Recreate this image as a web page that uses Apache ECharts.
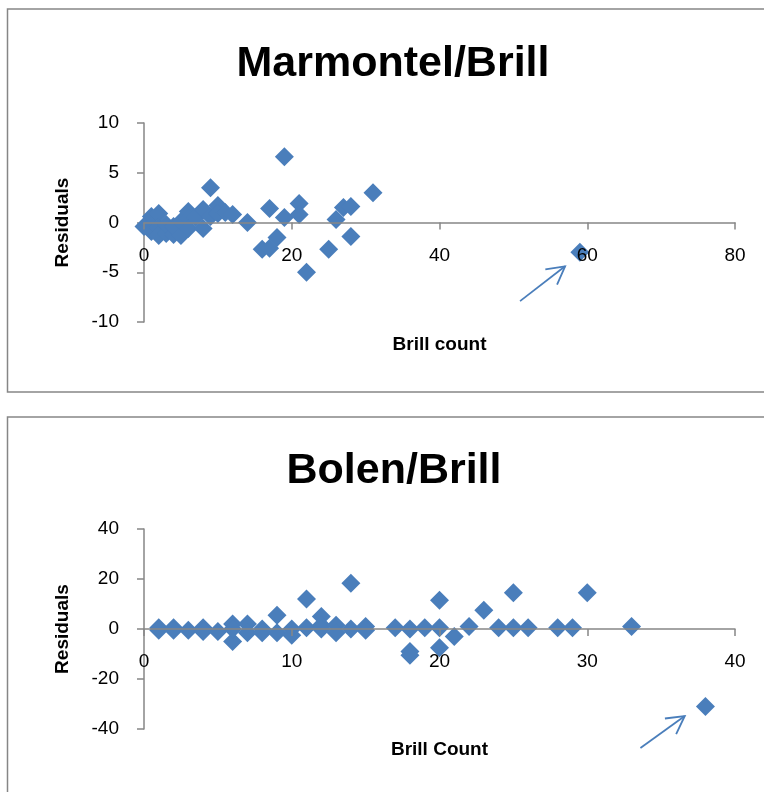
<!DOCTYPE html>
<html>
<head>
<meta charset="utf-8">
<script src="https://cdn.jsdelivr.net/npm/echarts@6/dist/echarts.min.js"></script>
<style>
  html, body { margin: 0; padding: 0; background: #fff; overflow: hidden; }
  #main { width: 764px; height: 792px; }
</style>
</head>
<body>
<div id="main"></div>
<script>
// Marmontel/Brill residuals (Brill count, residual)
const marmCount = [0, 1, 1, 1, 2, 2, 2, 3, 3, 4, 4, 5, 5, 6, 6, 6, 7, 8, 8, 9, 9, 10, 10, 11, 12, 14, 16, 17, 17, 18, 19, 19, 21, 21, 22, 25, 26, 27, 28, 28, 31, 59]
const marmResid = [-0.4, 0.6, -0.3, -0.9, 0.9, -0.5, -1.3, -1.1, -0.2, -1.2, -0.4, -1.3, 0.1, 1.1, 0.4, -0.6, 0.5, 1.3, -0.6, 3.5, 0.6, 1.7, 0.9, 1.0, 0.8, 0, -2.7, 1.4, -2.6, -1.5, 6.6, 0.5, 1.9, 0.8, -5, -2.7, 0.3, 1.5, 1.6, -1.4, 3, -3]

// Bolen/Brill residuals
const bolenCount = [1, 1, 2, 2, 3, 4, 4, 5, 6, 6, 6, 7, 7, 8, 8, 9, 9, 10, 10, 11, 11, 12, 12, 12, 13, 13, 14, 14, 15, 15, 17, 18, 18, 18, 19, 20, 20, 20, 21, 22, 23, 24, 25, 25, 26, 28, 29, 30, 33, 38]
const bolenResid = [0.5, -0.5, 0.5, -0.5, -0.5, 0.5, -1, -1, 2, -5, 0, 2, -1.5, 0, -1.5, 5.5, -1.5, 0, -2.5, 0.5, 12, 5, 1.5, 0, 1.5, -1.5, 18.3, 0, 1, -0.5, 0.5, 0, -9, -10.5, 0.5, 11.5, 0.5, -7.5, -3, 1, 7.5, 0.5, 14.5, 0.5, 0.5, 0.5, 0.5, 14.5, 1, -31]

// arrows pointing at the outliers: [tail, tip] in data units
const marmArrow = [[50.9, -7.9], [57.0, -4.4]]
const bolenArrow = [[33.6, -47.6], [36.6, -34.8]]

const blue = '#4A7EBB'
const grey = '#868686'
const font = 'Liberation Sans, Arial, sans-serif'

function pairs(xs, ys) {
  return xs.map((x, i) => [x, ys[i]])
}

// labels sit at the grid bottom, so pull them back up under the zero line
function xAxisFor(idx, max, interval, name, labelMargin, gap) {
  return {
    gridIndex: idx, type: 'value', min: 0, max: max, interval: interval, z: 5,
    axisLine: { onZero: true, lineStyle: { color: grey, width: 1.5 } },
    axisTick: { show: true, length: 7, lineStyle: { color: grey, width: 1.5 } },
    axisLabel: { margin: labelMargin, fontSize: 19, color: '#000', fontFamily: font },
    splitLine: { show: false },
    name: name, nameLocation: 'middle', nameGap: gap,
    nameTextStyle: { fontSize: 19, fontWeight: 'bold', color: '#000', fontFamily: font }
  }
}

function yAxisFor(idx, min, max, interval) {
  return {
    gridIndex: idx, type: 'value', min: min, max: max, interval: interval,
    axisLine: { show: true, lineStyle: { color: grey, width: 1.5 } },
    axisTick: { show: true, length: 7, lineStyle: { color: grey, width: 1.5 } },
    axisLabel: { margin: 25, fontSize: 19, color: '#000', fontFamily: font },
    splitLine: { show: false },
    name: 'Residuals', nameLocation: 'middle', nameRotate: 90, nameGap: 72,
    nameTextStyle: { fontSize: 19, fontWeight: 'bold', color: '#000', fontFamily: font }
  }
}

const chart = echarts.init(document.getElementById('main'), null, { renderer: 'canvas' })

chart.setOption({
  animation: false,
  backgroundColor: '#fff',
  grid: [
    { left: 144, top: 123, width: 591, height: 199, outerBoundsMode: 'none', containLabel: false },
    { left: 144, top: 529, width: 591, height: 200, outerBoundsMode: 'none', containLabel: false }
  ],
  xAxis: [
    xAxisFor(0, 80, 20, 'Brill count', -76, 13),
    xAxisFor(1, 40, 10, 'Brill Count', -77, 11)
  ],
  yAxis: [
    yAxisFor(0, -10, 10, 5),
    yAxisFor(1, -40, 40, 20)
  ],
  series: [
    {
      type: 'scatter', xAxisIndex: 0, yAxisIndex: 0,
      symbol: 'diamond', symbolSize: 19,
      itemStyle: { color: blue, opacity: 1 },
      data: pairs(marmCount, marmResid)
    },
    {
      type: 'scatter', xAxisIndex: 1, yAxisIndex: 1,
      symbol: 'diamond', symbolSize: 19,
      itemStyle: { color: blue, opacity: 1 },
      data: pairs(bolenCount, bolenResid)
    }
  ]
})

// arrow annotation built from data coords
function arrow(gridIdx, pts) {
  const a = chart.convertToPixel({ gridIndex: gridIdx }, pts[0])
  const b = chart.convertToPixel({ gridIndex: gridIdx }, pts[1])
  const ang = Math.atan2(a[1] - b[1], a[0] - b[0])
  const len = 20, spread = 0.5
  const w1 = [b[0] + len * Math.cos(ang + spread), b[1] + len * Math.sin(ang + spread)]
  const w2 = [b[0] + len * Math.cos(ang - spread), b[1] + len * Math.sin(ang - spread)]
  const style = { stroke: blue, lineWidth: 1.8, fill: null }
  return [
    { type: 'polyline', shape: { points: [a, b] }, style: style, z: 10 },
    { type: 'polyline', shape: { points: [w1, b, w2] }, style: style, z: 10 }
  ]
}

chart.setOption({
  graphic: [
    { type: 'rect', shape: { x: 7.5, y: 9, width: 820, height: 383 }, style: { fill: null, stroke: grey, lineWidth: 1.5 }, z: -1 },
    { type: 'rect', shape: { x: 7.5, y: 417, width: 820, height: 420 }, style: { fill: null, stroke: grey, lineWidth: 1.5 }, z: -1 },
    { type: 'text', x: 393, y: 64, style: { text: 'Marmontel/Brill', font: 'bold 43px ' + font, fill: '#000', textAlign: 'center', textVerticalAlign: 'middle' } },
    { type: 'text', x: 394, y: 471, style: { text: 'Bolen/Brill', font: 'bold 43px ' + font, fill: '#000', textAlign: 'center', textVerticalAlign: 'middle' } },
    ...arrow(0, marmArrow),
    ...arrow(1, bolenArrow)
  ]
})
</script>
</body>
</html>
